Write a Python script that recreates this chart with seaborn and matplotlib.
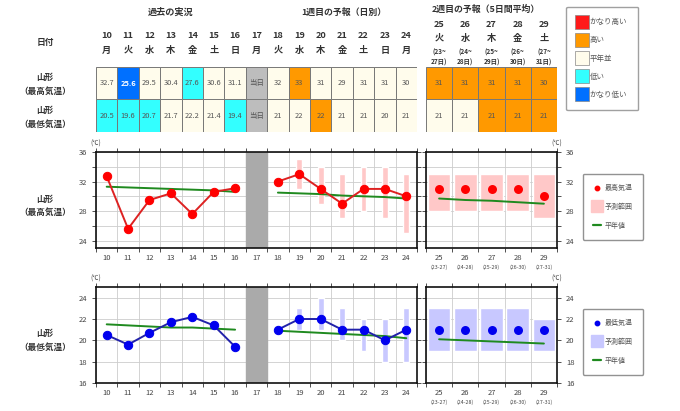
import numpy as np
import matplotlib
matplotlib.use("Agg")
import matplotlib.pyplot as plt
from matplotlib.lines import Line2D
import seaborn as sns

# ---- values ----
all_days = list(range(10, 25))
weekdays = ['月', '火', '水', '木', '金', '土', '日', '月', '火', '水', '木', '金', '土', '日', '月']
past_days = [10, 11, 12, 13, 14, 15, 16]
w1_days = [18, 19, 20, 21, 22, 23, 24]
w2_days = [25, 26, 27, 28, 29]
w2_weekdays = ['火', '水', '木', '金', '土']
w2_from = ['23', '24', '25', '26', '27']
w2_to = ['27', '28', '29', '30', '31']

max_past = [32.7, 25.6, 29.5, 30.4, 27.6, 30.6, 31.1]
max_w1 = [32, 33, 31, 29, 31, 31, 30]
max_w1_lo = [np.nan, 31, 29, 27, 28, 27, 25]
max_w1_hi = [np.nan, 35, 34, 33, 34, 34, 33]
max_w2 = [31, 31, 31, 31, 30]
max_w2_lo = [28, 28, 28, 28, 27]
max_w2_hi = [33, 33, 33, 33, 33]
max_norm_past = [31.3, 31.2, 31.1, 31.0, 30.9, 30.8, 30.6]
max_norm_w1 = [30.5, 30.4, 30.3, 30.1, 30.0, 29.9, 29.7]
max_norm_w2 = [29.7, 29.5, 29.4, 29.2, 29.0]

min_past = [20.5, 19.6, 20.7, 21.7, 22.2, 21.4, 19.4]
min_w1 = [21, 22, 22, 21, 21, 20, 21]
min_w1_lo = [np.nan, 21, 21, 20, 19, 18, 18]
min_w1_hi = [np.nan, 23, 24, 23, 22, 22, 23]
min_w2 = [21, 21, 21, 21, 21]
min_w2_lo = [19, 19, 19, 19, 19]
min_w2_hi = [23, 23, 23, 23, 22]
min_norm_past = [21.5, 21.4, 21.3, 21.2, 21.2, 21.1, 21.0]
min_norm_w1 = [20.9, 20.8, 20.7, 20.6, 20.5, 20.4, 20.2]
min_norm_w2 = [20.1, 20.0, 19.9, 19.8, 19.7]

# table cells: text and class
max_labels = ['32.7', '25.6', '29.5', '30.4', '27.6', '30.6', '31.1', '当日',
              '32', '33', '31', '29', '31', '31', '30']
max_class = ['n', 'vl', 'n', 'n', 'l', 'n', 'n', 'x', 'n', 'h', 'n', 'n', 'n', 'n', 'n']
max_w2_labels = ['31', '31', '31', '31', '30']
max_w2_class = ['h', 'h', 'h', 'h', 'h']
min_labels = ['20.5', '19.6', '20.7', '21.7', '22.2', '21.4', '19.4', '当日',
              '21', '22', '22', '21', '21', '20', '21']
min_class = ['l', 'l', 'l', 'n', 'n', 'n', 'l', 'x', 'n', 'n', 'h', 'n', 'n', 'n', 'n']
min_w2_labels = ['21', '21', '21', '21', '21']
min_w2_class = ['n', 'n', 'h', 'h', 'h']

class_names = ['かなり高い', '高い', '平年並', '低い', 'かなり低い']
class_keys = ['vh', 'h', 'n', 'l', 'vl']
cell_colors = {'vh': '#ff1a1a', 'h': '#ff9900', 'n': '#fffcec', 'l': '#33ffff',
               'vl': '#0070ff', 'x': '#bdbdbd'}

sns.set_theme(style="white")
plt.rcParams['font.family'] = ['Noto Sans CJK JP', 'DejaVu Sans']
plt.rcParams['axes.unicode_minus'] = False

W, H = 680, 411
fig = plt.figure(figsize=(W / 100, H / 100), dpi=100)


def px_axes(x0, y0, x1, y1):
    # pixel box -> figure axes
    return fig.add_axes([x0 / W, 1 - y1 / H, (x1 - x0) / W, (y1 - y0) / H])


TXT = '#333333'

# ---------------- table ----------------
t1 = px_axes(96, 67, 417, 132)
t2 = px_axes(426, 67, 557, 132)


def draw_table(ax, days, top_lab, top_cls, bot_lab, bot_cls):
    ax.bar(days, 1, bottom=1, width=1, color=[cell_colors[c] for c in top_cls],
           edgecolor='#777777', linewidth=0.7)
    ax.bar(days, 1, bottom=0, width=1, color=[cell_colors[c] for c in bot_cls],
           edgecolor='#777777', linewidth=0.7)
    for d, lab, c in zip(days, top_lab, top_cls):
        ax.text(d, 1.5, lab, ha='center', va='center', fontsize=5.4,
                color='white' if c == 'vl' else '#555555',
                fontweight='bold' if c == 'vl' else 'normal')
    for d, lab, c in zip(days, bot_lab, bot_cls):
        ax.text(d, 0.5, lab, ha='center', va='center', fontsize=5.4,
                color='white' if c == 'vl' else '#555555')
    ax.set_xlim(days[0] - 0.5, days[-1] + 0.5)
    ax.set_ylim(0, 2)
    ax.axis('off')


draw_table(t1, all_days, max_labels, max_class, min_labels, min_class)
draw_table(t2, w2_days, max_w2_labels, max_w2_class, min_w2_labels, min_w2_class)

for d, wd in zip(all_days, weekdays):
    t1.text(d, 2.98, str(d), ha='center', va='center', fontsize=6.6,
            fontweight='bold', color=TXT)
    t1.text(d, 2.52, wd, ha='center', va='center', fontsize=6.6,
            fontweight='bold', color=TXT)
t1.text(13, 3.69, '過去の実況', ha='center', va='center', fontsize=6.6, color=TXT,
        fontweight='bold')
t1.text(21.1, 3.69, '1週目の予報（日別）', ha='center', va='center', fontsize=6.4,
        color=TXT, fontweight='bold')
for d, wd, a, b in zip(w2_days, w2_weekdays, w2_from, w2_to):
    t2.text(d, 3.32, str(d), ha='center', va='center', fontsize=6.6,
            fontweight='bold', color=TXT)
    t2.text(d, 2.89, wd, ha='center', va='center', fontsize=6.6,
            fontweight='bold', color=TXT)
    t2.text(d, 2.46, '(' + a + '~', ha='center', va='center', fontsize=4.6,
            fontweight='bold', color=TXT)
    t2.text(d, 2.15, b + '日)', ha='center', va='center', fontsize=4.6,
            fontweight='bold', color=TXT)
t2.text(26.8, 3.78, '2週目の予報（5日間平均）', ha='center', va='center',
        fontsize=6.4, color=TXT, fontweight='bold')

fig.text(45 / W, 1 - 42 / H, '日付', ha='center', va='center', fontsize=6.3,
         color=TXT, fontweight='bold')
for y, s in [(77, '山形'), (91, '（最高気温）'), (110, '山形'), (124, '（最低気温）'),
             (199, '山形'), (212, '（最高気温）'), (333, '山形'), (347, '（最低気温）')]:
    fig.text(45 / W, 1 - y / H, s, ha='center', va='center', fontsize=6.2,
             color=TXT, fontweight='bold')

# colour legend
col_handles = [Line2D([], [], linestyle='none', marker='s', markersize=10,
                      markerfacecolor=cell_colors[k], markeredgecolor='#888888',
                      markeredgewidth=0.5) for k in class_keys]
leg = fig.legend(col_handles, class_names, loc='upper left',
                 bbox_to_anchor=(566 / W, 1 - 7 / H), fontsize=5.4, frameon=True,
                 fancybox=True, edgecolor='#888888', labelspacing=1.36,
                 handlelength=1.2, handletextpad=0.45, borderpad=1.5,
                 borderaxespad=0)
for t in leg.get_texts():
    t.set_color('#555555')


# ---------------- charts ----------------
def setup_axis(ax, lo, hi, ylim, ymajor, ygrid, right=False):
    ax.set_xlim(lo - 0.5, hi + 0.5)
    ax.set_ylim(*ylim)
    ax.set_xticks(np.arange(lo - 0.5, hi + 1, 1))
    ax.set_xticks(np.arange(lo, hi + 1, 1), minor=True)
    ax.set_xticklabels([])
    ax.set_xticklabels([str(d) for d in range(lo, hi + 1)], minor=True)
    ax.set_yticks(ymajor)
    ax.set_yticks(ygrid, minor=True)
    ax.tick_params(axis='x', which='major', direction='out', length=3, width=0.6,
                   top=True, bottom=True, color='#333333')
    ax.tick_params(axis='x', which='minor', length=0, pad=4, labelsize=5.5,
                   labelcolor='#444444')
    ax.tick_params(axis='y', which='both', direction='out', length=3, width=0.6,
                   left=True, right=True, labelsize=5.5, labelcolor='#444444',
                   labelleft=not right, labelright=right, color='#333333')
    ax.grid(True, which='major', axis='x', color='#cccccc', linewidth=0.6)
    ax.grid(True, which='both', axis='y', color='#cccccc', linewidth=0.6)
    for sp in ax.spines.values():
        sp.set_color('#111111')
        sp.set_linewidth(1.2)
    ax.set_axisbelow(True)


def draw_chart(y0, y1, ylim, ymajor, ygrid, past, w1, w1lo, w1hi, w2, w2lo, w2hi,
               n_past, n_w1, n_w2, dot, line, band, label):
    a1 = px_axes(96, y0, 417, y1)
    a2 = px_axes(426, y0, 557, y1)
    setup_axis(a1, 10, 24, ylim, ymajor, ygrid)
    setup_axis(a2, 25, 29, ylim, ymajor, ygrid, right=True)
    a1.axvspan(16.5, 17.5, color='#aaaaaa', zorder=1.5)

    lo = np.array(w1lo, dtype=float)
    hi = np.array(w1hi, dtype=float)
    a1.bar(w1_days, hi - lo, bottom=lo, width=0.28, color=band, zorder=2)
    a2.bar(w2_days, np.array(w2hi) - np.array(w2lo), bottom=w2lo, width=0.86,
           color=band, zorder=2)

    green = '#1f8a1f'
    for ax, xs, ys in [(a1, past_days, n_past), (a1, w1_days, n_w1), (a2, w2_days, n_w2)]:
        sns.lineplot(x=xs, y=ys, ax=ax, color=green, linewidth=1.4, zorder=3)
    for xs, ys in [(past_days, past), (w1_days, w1)]:
        sns.lineplot(x=xs, y=ys, ax=a1, color=line, linewidth=1.4, marker='o',
                     markersize=6, markerfacecolor=dot, markeredgecolor=dot,
                     zorder=4)
    sns.scatterplot(x=w2_days, y=w2, ax=a2, color=dot, s=42, edgecolor=dot,
                    linewidth=0, zorder=4)

    for ax in (a1, a2):
        ax.set_xlabel('')
        ax.set_ylabel('')
    for d, a, b in zip(w2_days, w2_from, w2_to):
        a2.text(d, -0.2, '(' + a + '-' + b + ')', transform=a2.get_xaxis_transform(),
                ha='center', va='center', fontsize=3.8, color='#444444')
    fig.text(96 / W, 1 - (y0 - 8) / H, '(℃)', ha='center', va='center',
             fontsize=4.5, color='#444444')
    fig.text(557 / W, 1 - (y0 - 8) / H, '(℃)', ha='center', va='center',
             fontsize=4.5, color='#444444')

    handles = [Line2D([], [], linestyle='none', marker='o', markersize=3.2,
                      markerfacecolor=dot, markeredgecolor=dot),
               Line2D([], [], linestyle='none', marker='s', markersize=9,
                      markerfacecolor=band, markeredgecolor=band),
               Line2D([], [], color=green, linewidth=1.6)]
    lg = fig.legend(handles, [label, '予測範囲', '平年値'], loc='upper left',
                    bbox_to_anchor=(583 / W, 1 - (y0 + 22) / H), fontsize=5,
                    frameon=True, fancybox=True, edgecolor='#777777',
                    labelspacing=1.55, handlelength=1.2, handletextpad=0.5,
                    borderpad=1.45, borderaxespad=0)
    for t in lg.get_texts():
        t.set_color('#555555')


draw_chart(152, 248, (23, 36), [24, 28, 32, 36], [26, 30, 34],
           max_past, max_w1, max_w1_lo, max_w1_hi, max_w2, max_w2_lo, max_w2_hi,
           max_norm_past, max_norm_w1, max_norm_w2,
           '#ff0000', '#dd2222', '#ffc8c8', '最高気温')
draw_chart(287, 383, (16, 25), [16, 18, 20, 22, 24], [],
           min_past, min_w1, min_w1_lo, min_w1_hi, min_w2, min_w2_lo, min_w2_hi,
           min_norm_past, min_norm_w1, min_norm_w2,
           '#0000ee', '#2222aa', '#c8c8ff', '最低気温')

fig.savefig('out.png', dpi=100)
